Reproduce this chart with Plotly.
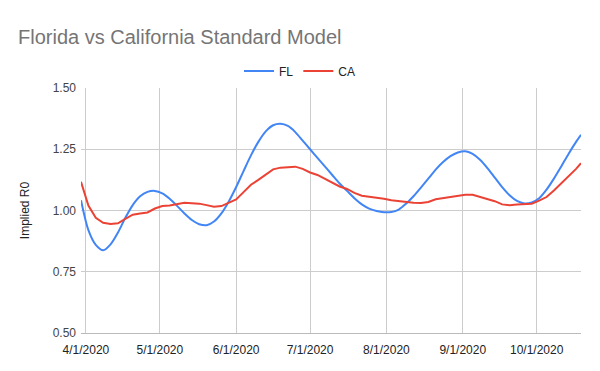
import pandas as pd
import plotly.graph_objects as go

# Dates: every 3 days from 3/30/2020, plus the final day 10/19/2020
dates = list(pd.date_range("2020-03-30", periods=68, freq="3D")) + [pd.Timestamp("2020-10-19")]

fl = [1.042, 0.92, 0.86, 0.838, 0.862, 0.91, 0.97, 1.022, 1.058, 1.076,
      1.08, 1.07, 1.048, 1.019, 0.988, 0.961, 0.944, 0.94, 0.955, 0.988,
      1.037, 1.096, 1.161, 1.225, 1.28, 1.323, 1.348, 1.354, 1.345, 1.32,
      1.285, 1.25, 1.215, 1.18, 1.145, 1.11, 1.08, 1.05, 1.025, 1.008,
      0.998, 0.993, 0.994, 1.004, 1.028, 1.058, 1.093, 1.13, 1.167, 1.198,
      1.222, 1.237, 1.242, 1.231, 1.207, 1.173, 1.134, 1.095, 1.062, 1.039,
      1.029, 1.033, 1.05, 1.085, 1.13, 1.18, 1.232, 1.28, 1.309]

ca = [1.117, 1.02, 0.97, 0.95, 0.945, 0.948, 0.966, 0.983, 0.988, 0.992,
      1.008, 1.018, 1.02, 1.025, 1.032, 1.03, 1.028, 1.022, 1.015, 1.018,
      1.03, 1.045, 1.075, 1.105, 1.125, 1.148, 1.168, 1.175, 1.178, 1.179,
      1.17, 1.155, 1.145, 1.13, 1.113, 1.098, 1.088, 1.072, 1.06, 1.056,
      1.055, 1.048, 1.042, 1.038, 1.034, 1.032, 1.031, 1.035, 1.046, 1.05,
      1.056, 1.058, 1.064, 1.064, 1.056, 1.048, 1.038, 1.025, 1.021, 1.024,
      1.025, 1.028, 1.04, 1.055, 1.082, 1.11, 1.138, 1.17, 1.193]

tick_dates = ["2020-04-01", "2020-05-01", "2020-06-01", "2020-07-01",
              "2020-08-01", "2020-09-01", "2020-10-01"]
tick_labels = ["4/1/2020", "5/1/2020", "6/1/2020", "7/1/2020",
               "8/1/2020", "9/1/2020", "10/1/2020"]
y_ticks = [0.50, 0.75, 1.00, 1.25, 1.50]

fig = go.Figure()
fig.add_trace(go.Scatter(x=dates, y=fl, name="FL", mode="lines",
                         line=dict(color="#4285F4", width=2, shape="spline", smoothing=0.8)))
fig.add_trace(go.Scatter(x=dates, y=ca, name="CA", mode="lines",
                         line=dict(color="#EA4335", width=2)))

fig.update_layout(
    width=600, height=371,
    margin=dict(l=81, r=19, t=88, b=38, autoexpand=False),
    paper_bgcolor="white", plot_bgcolor="white",
    font=dict(family="Liberation Sans, Arial, sans-serif", size=12, color="#222222"),
    title=dict(text="Florida vs California Standard Model",
               x=18 / 600, xanchor="left", xref="container",
               y=1 - 37 / 371, yanchor="middle", yref="container",
               font=dict(size=20, color="#757575")),
    legend=dict(orientation="h", xref="container", yref="container",
                x=0.5, xanchor="center", y=1 - 71 / 371, yanchor="middle",
                font=dict(size=12, color="#222222"), itemwidth=30,
                bgcolor="rgba(0,0,0,0)"),
    showlegend=True,
)
fig.update_xaxes(
    type="date", range=[dates[0], dates[-1]],
    tickvals=tick_dates, ticktext=tick_labels,
    showgrid=True, gridcolor="#cccccc", gridwidth=1,
    showline=True, linecolor="#bbbbbb", zeroline=False,
    ticks="", ticklabelstandoff=6, automargin=False,
    tickfont=dict(size=12, color="#222222"),
)
fig.update_yaxes(
    range=[0.5, 1.5], tickvals=y_ticks, tickformat=".2f",
    showgrid=True, gridcolor="#cccccc", gridwidth=1,
    zeroline=False, ticks="", ticklabelstandoff=4, automargin=False,
    tickfont=dict(size=12, color="#444444"),
    title=dict(text="Implied R0", font=dict(size=12, color="#222222"), standoff=20),
)
fig.write_html("out.html", config={"displayModeBar": False},
               post_script="document.body.style.margin='0';")
